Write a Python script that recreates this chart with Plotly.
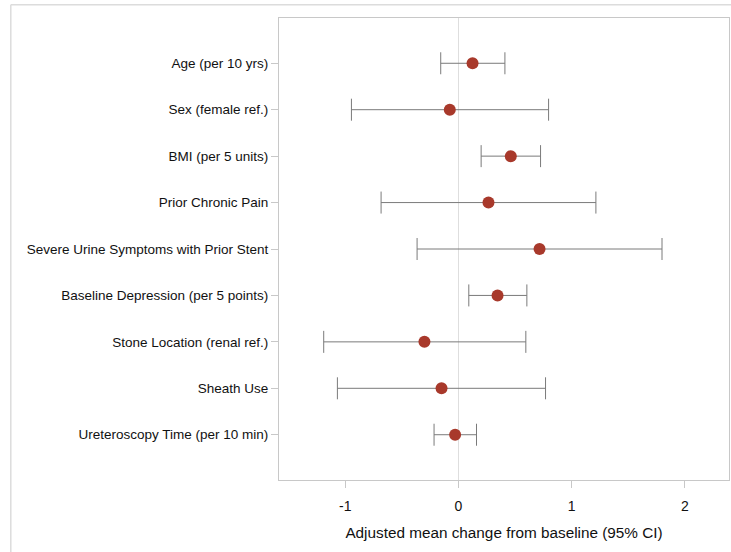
import plotly.graph_objects as go

labels = [
    "Age (per 10 yrs)",
    "Sex (female ref.)",
    "BMI (per 5 units)",
    "Prior Chronic Pain",
    "Severe Urine Symptoms with Prior Stent",
    "Baseline Depression (per 5 points)",
    "Stone Location (renal ref.)",
    "Sheath Use",
    "Ureteroscopy Time (per 10 min)",
]
estimate = [0.124, -0.077, 0.462, 0.265, 0.716, 0.345, -0.301, -0.150, -0.030]
ci_lower = [-0.157, -0.946, 0.200, -0.684, -0.366, 0.091, -1.191, -1.070, -0.216]
ci_upper = [0.410, 0.796, 0.725, 1.214, 1.798, 0.604, 0.595, 0.769, 0.159]

x_ticks = [-1, 0, 1, 2]

err_plus = [u - e for u, e in zip(ci_upper, estimate)]
err_minus = [e - l for e, l in zip(estimate, ci_lower)]

fig = go.Figure()
fig.add_trace(go.Scatter(
    x=estimate, y=labels, mode="markers",
    marker=dict(size=12, color="#A8392B", line=dict(width=0)),
    error_x=dict(type="data", symmetric=False, array=err_plus, arrayminus=err_minus,
                 color="#7a7a7a", thickness=1, width=11),
    showlegend=False,
))

font_family = "Liberation Sans, Arial, sans-serif"
fig.update_layout(
    width=731, height=552,
    margin=dict(l=279, r=2, t=18, b=72),
    paper_bgcolor="white", plot_bgcolor="white",
    font=dict(family=font_family, size=13.5, color="#111"),
    xaxis=dict(
        range=[-1.586, 2.39], tickvals=x_ticks, ticktext=[str(t) for t in x_ticks],
        showgrid=False, zeroline=True, zerolinecolor="#dedede", zerolinewidth=1,
        showline=True, linecolor="#c8c8c8", linewidth=1, mirror=True,
        ticks="outside", ticklen=7, tickcolor="#c8c8c8", ticklabelstandoff=6,
        tickfont=dict(size=14, color="#111"),
        title=dict(text="Adjusted mean change from baseline (95% CI)",
                   font=dict(size=15.3, color="#111"), standoff=14),
    ),
    yaxis=dict(
        type="category", categoryorder="array", categoryarray=labels,
        range=[8.975, -0.975],
        showgrid=False, zeroline=False,
        showline=True, linecolor="#c8c8c8", linewidth=1, mirror=True,
        ticks="outside", ticklen=7, tickcolor="#c8c8c8",
        tickfont=dict(size=13.5, color="#111"),
    ),
    shapes=[
        dict(type="line", xref="paper", yref="paper", x0=-0.596, x1=1.05, y0=1.0288, y1=1.0288,
             line=dict(color="#dcdcdc", width=1.5)),
        dict(type="line", xref="paper", yref="paper", x0=-0.596, x1=-0.596, y0=1.0288, y1=-0.2,
             line=dict(color="#dcdcdc", width=1.5)),
    ],
)

fig.write_html("out.html")
